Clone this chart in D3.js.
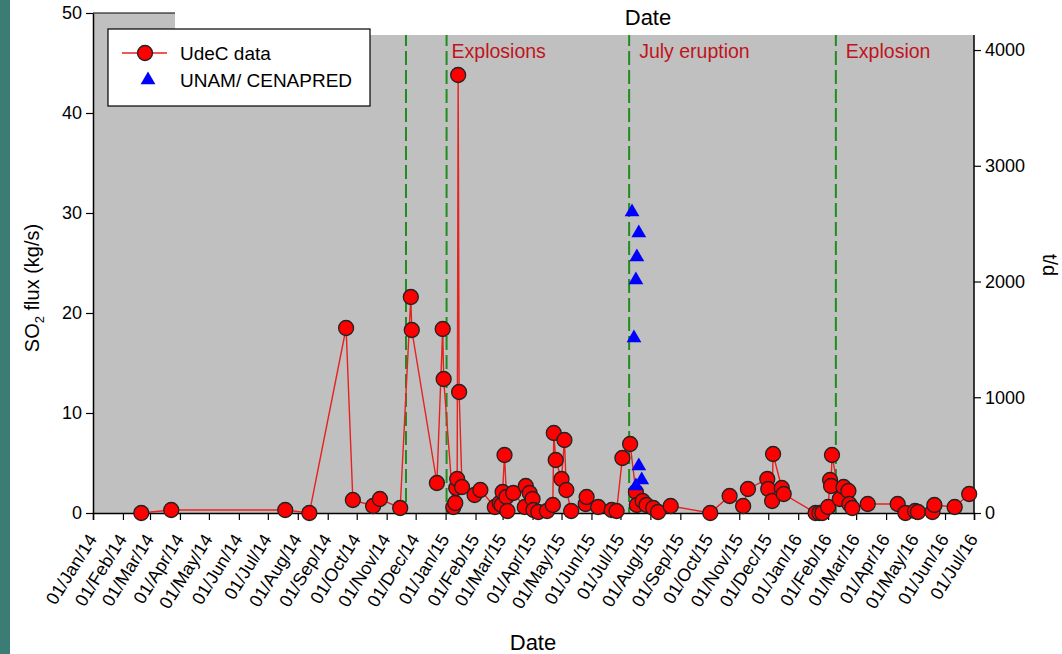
<!DOCTYPE html>
<html><head><meta charset="utf-8">
<script src="https://cdn.jsdelivr.net/npm/d3@7/dist/d3.min.js"></script>
<style>
html,body{margin:0;padding:0;background:#fff;}
svg{display:block;font-family:"Liberation Sans",Arial,sans-serif;}
</style></head>
<body>
<svg id="chart" width="1062" height="654"></svg>
<script>
// UdeC data (SO2 flux, kg/s)
const udecDates = ["2014-02-20","2014-03-23","2014-07-19","2014-08-13","2014-09-20","2014-09-27","2014-10-18","2014-10-25","2014-11-15","2014-11-26","2014-11-27","2014-12-23","2014-12-29","2014-12-30",
"2015-01-09","2015-01-11","2015-01-12","2015-01-13","2015-01-14","2015-01-15","2015-01-18","2015-01-31","2015-02-06","2015-02-21","2015-02-26","2015-02-28","2015-03-01","2015-03-03","2015-03-05","2015-03-06","2015-03-12","2015-03-24","2015-03-25","2015-03-29","2015-04-01","2015-04-02","2015-04-07","2015-04-16","2015-04-22","2015-04-23","2015-04-25","2015-05-01","2015-05-04","2015-05-06","2015-05-11","2015-05-26","2015-05-27","2015-06-08","2015-06-22","2015-06-27","2015-07-03","2015-07-11","2015-07-17","2015-07-18","2015-07-24","2015-07-28","2015-08-04","2015-08-09","2015-08-22","2015-10-02","2015-10-22","2015-11-05","2015-11-10","2015-11-30","2015-12-01","2015-12-05","2015-12-06","2015-12-15","2015-12-17",
"2016-01-19","2016-01-23","2016-01-26","2016-02-01","2016-02-03","2016-02-04","2016-02-05","2016-02-13","2016-02-17","2016-02-22","2016-02-23","2016-02-26","2016-03-13","2016-04-13","2016-04-21","2016-05-01","2016-05-04","2016-05-19","2016-05-21","2016-06-11","2016-06-26"];
const udecValues = [0.0,0.3,0.3,0.0,18.5,1.3,0.7,1.4,0.5,21.6,18.3,3.0,18.4,13.4,
0.6,1.0,2.5,3.4,43.8,12.1,2.6,1.8,2.3,0.6,1.0,0.8,2.1,5.8,1.6,0.2,2.0,0.6,2.7,2.0,1.4,0.3,0.1,0.2,0.8,8.0,5.3,3.4,7.3,2.3,0.2,0.9,1.6,0.6,0.3,0.2,5.5,6.9,2.1,0.8,1.2,0.8,0.5,0.1,0.7,0.0,1.7,0.7,2.4,3.4,2.4,1.2,5.9,2.5,1.9,
0.0,0.0,0.0,0.6,3.3,2.7,5.8,1.4,2.6,2.2,0.9,0.5,0.9,0.9,0.0,0.2,0.1,0.1,0.8,0.6,1.9];
// UNAM/ CENAPRED data (kg/s)
const unamDates = ["2015-07-13","2015-07-20","2015-07-18","2015-07-17","2015-07-15","2015-07-20","2015-07-23","2015-07-17"];
const unamValues = [30.1,28.0,25.6,23.3,17.5,4.7,3.3,2.7];
// Events
const eventDates = ["2014-11-21","2015-01-02","2015-07-10","2016-02-09"];
const eventLabels = [{date:"2015-01-02",text:"Explosions",dx:5},{date:"2015-07-10",text:"July eruption",dx:10},{date:"2016-02-09",text:"Explosion",dx:10}];
// Axes
const xDomain = ["2014-01-01","2016-07-01"];
const yTicks = [0,10,20,30,40,50];
const y2Ticks = [0,1000,2000,3000,4000];

const parse = d3.utcParse("%Y-%m-%d");
const svg = d3.select("#chart");
const L=93, R=974, T=13, B=513;
const x = d3.scaleUtc().domain(xDomain.map(parse)).range([L,R]);
const y = d3.scaleLinear().domain([0,50]).range([B,T]);
const y2 = d3.scaleLinear().domain([0,50*86.4]).range([B,T]);

// teal strip
svg.append("rect").attr("x",0).attr("y",0).attr("width",10).attr("height",654).attr("fill","#3b7c74");

// plot background
svg.append("rect").attr("x",L).attr("y",T).attr("width",R-L).attr("height",B-T).attr("fill","#c0c0c0");
svg.append("line").attr("x1",L).attr("x2",R).attr("y1",T).attr("y2",T).attr("stroke","#000").attr("stroke-width",1.2);

// event lines
svg.append("g").selectAll("line").data(eventDates).join("line")
  .attr("x1",d=>x(parse(d))).attr("x2",d=>x(parse(d)))
  .attr("y1",T).attr("y2",B)
  .attr("stroke","#1e8c1e").attr("stroke-width",2).attr("stroke-dasharray","14,5");

// white cover at top
svg.append("rect").attr("x",175).attr("y",0).attr("width",1062-175).attr("height",35).attr("fill","#fff");
svg.append("text").attr("x",648).attr("y",25).attr("text-anchor","middle").attr("font-size",22).attr("fill","#000").text("Date");

// event labels
svg.append("g").selectAll("text").data(eventLabels).join("text")
  .attr("x",d=>x(parse(d.date))+d.dx).attr("y",58)
  .attr("font-size",19.5).attr("fill","#c0141c").text(d=>d.text);

// axes
const xAxis = d3.axisBottom(x).ticks(d3.utcMonth.every(1)).tickFormat(d3.utcFormat("%d/%b/%y")).tickSizeOuter(0).tickSize(7);
const gx = svg.append("g").attr("transform",`translate(0,${B})`).call(xAxis);
gx.select(".domain").attr("stroke","#000").attr("stroke-width",1.5);
gx.selectAll(".tick line").attr("stroke","#000").attr("stroke-width",1.2);
gx.selectAll(".tick text").attr("font-size",18).attr("fill","#000")
  .attr("text-anchor","end").attr("dy",0).attr("y",0)
  .attr("transform","translate(4,26) rotate(-58)");

const gy = svg.append("g").attr("transform",`translate(${L},0)`).call(d3.axisLeft(y).tickValues(yTicks).tickSize(7).tickSizeOuter(0).tickPadding(4));
gy.select(".domain").attr("stroke","#000").attr("stroke-width",1.5);
gy.selectAll(".tick line").attr("stroke","#000").attr("stroke-width",1.2);
gy.selectAll(".tick text").attr("font-size",18).attr("fill","#000");

const gy2 = svg.append("g").attr("transform",`translate(${R},0)`).call(d3.axisRight(y2).tickValues(y2Ticks).tickFormat(d3.format("d")).tickSize(7).tickSizeOuter(0).tickPadding(4));
gy2.select(".domain").attr("stroke","#000").attr("stroke-width",1.5).attr("d",`M0,35V${B}`);
gy2.selectAll(".tick line").attr("stroke","#000").attr("stroke-width",1.2);
gy2.selectAll(".tick text").attr("font-size",18).attr("fill","#000");

// axis titles
svg.append("text").attr("transform","translate(39,288) rotate(-90)").attr("text-anchor","middle").attr("font-size",20).attr("fill","#000")
  .html('SO<tspan font-size="13" dy="5">2</tspan><tspan dy="-5"> flux (kg/s)</tspan>');
svg.append("text").attr("transform","translate(1043,265) rotate(90)").attr("text-anchor","middle").attr("font-size",20).attr("fill","#000").text("t/d");
svg.append("text").attr("x",533).attr("y",650).attr("text-anchor","middle").attr("font-size",22).attr("fill","#000").text("Date");

// data
const udec = udecDates.map((d,i)=>({date:parse(d),v:udecValues[i]}));
const unam = unamDates.map((d,i)=>({date:parse(d),v:unamValues[i]}));
svg.append("path").datum(udec)
  .attr("d",d3.line().x(d=>x(d.date)).y(d=>y(d.v)))
  .attr("fill","none").attr("stroke","#e8201e").attr("stroke-width",1.4);
svg.append("g").selectAll("circle").data(udec).join("circle")
  .attr("cx",d=>x(d.date)).attr("cy",d=>y(d.v)).attr("r",7.5)
  .attr("fill","#ff0000").attr("stroke","#222").attr("stroke-width",1.3);
const tri = d3.symbol().type(d3.symbolTriangle).size(95);
svg.append("g").selectAll("path").data(unam).join("path")
  .attr("transform",d=>`translate(${x(d.date)},${y(d.v)})`).attr("d",tri).attr("fill","#0000ff");

// legend
const lg = svg.append("g");
lg.append("rect").attr("x",108).attr("y",29).attr("width",262).attr("height",77).attr("fill","#fff").attr("stroke","#000").attr("stroke-width",1.2);
lg.append("line").attr("x1",122).attr("x2",167).attr("y1",53).attr("y2",53).attr("stroke","#e8201e").attr("stroke-width",1.4);
lg.append("circle").attr("cx",145).attr("cy",53).attr("r",7.5).attr("fill","#ff0000").attr("stroke","#222").attr("stroke-width",1.3);
lg.append("path").attr("transform","translate(148,80)").attr("d",tri).attr("fill","#0000ff");
lg.append("text").attr("x",180).attr("y",60).attr("font-size",19).attr("fill","#000").text("UdeC data");
lg.append("text").attr("x",180).attr("y",87).attr("font-size",19).attr("fill","#000").text("UNAM/ CENAPRED");
</script>
</body></html>
